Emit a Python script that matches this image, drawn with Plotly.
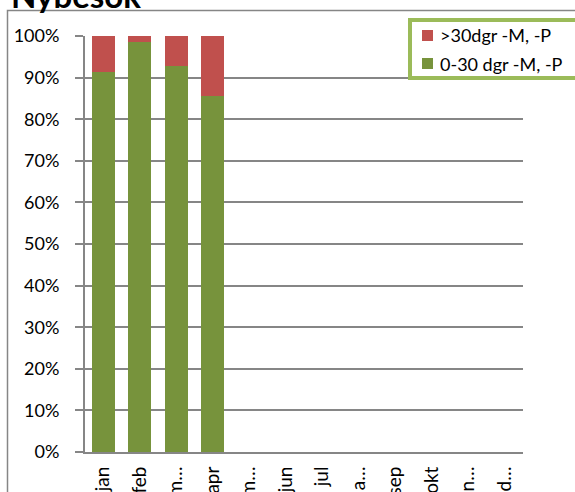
import plotly.graph_objects as go

months = ["jan", "feb", "m…", "apr", "m…", "jun", "jul", "a…", "sep", "okt", "n…", "d…"]
cat_ids = ["jan", "feb", "mar", "apr", "maj", "jun", "jul", "aug", "sep", "okt", "nov", "dec"]
ok_share = [0.913, 0.986, 0.929, 0.855, None, None, None, None, None, None, None, None]
late_share = [0.087, 0.014, 0.071, 0.145, None, None, None, None, None, None, None, None]
series_names = [">30dgr -M, -P", "0-30 dgr -M, -P"]
series_colors = ["#C0504D", "#77933C"]

W, H = 575, 492
ML, MR, MT, MB = 85, 52, 36, 40
PW, PH = W - ML - MR, H - MT - MB

def px_x(p):
    return (p - ML) / PW

def px_y(p):
    return (H - MB - p) / PH

FONT = "Lato, 'Liberation Sans', Arial, sans-serif"
GRID = "#868686"

fig = go.Figure()
fig.add_trace(go.Bar(x=cat_ids, y=ok_share, name=series_names[1],
                     marker=dict(color=series_colors[1], line=dict(width=0))))
fig.add_trace(go.Bar(x=cat_ids, y=late_share, name=series_names[0],
                     marker=dict(color=series_colors[0], line=dict(width=0))))

shapes = [
    dict(type="rect", xref="paper", yref="paper",
         x0=px_x(7.5), x1=px_x(W + 20), y0=px_y(H + 20), y1=px_y(10.5),
         line=dict(color=GRID, width=1.5), layer="below"),
    dict(type="rect", xref="paper", yref="paper",
         x0=px_x(410), x1=px_x(W + 20), y0=px_y(78), y1=px_y(20),
         line=dict(color="#9BBB59", width=4), fillcolor="white", layer="above"),
]
annotations = [
    dict(text="<b>Nybesök</b>", xref="paper", yref="paper",
         x=px_x(9), y=px_y(17), xanchor="left", yanchor="bottom",
         showarrow=False, font=dict(family=FONT, size=33)),
]
row_centers = [35.5, 63.5]
for name, color, cy in zip(series_names, series_colors, row_centers):
    shapes.append(dict(type="rect", xref="paper", yref="paper",
                       x0=px_x(422), x1=px_x(433), y0=px_y(cy + 5.5), y1=px_y(cy - 5.5),
                       line=dict(width=0), fillcolor=color, layer="above"))
    annotations.append(dict(text=name, xref="paper", yref="paper",
                            x=px_x(438), y=px_y(cy), xanchor="left", yanchor="middle",
                            showarrow=False, font=dict(family=FONT, size=18)))

fig.update_layout(
    width=W, height=H,
    margin=dict(l=ML, r=MR, t=MT, b=MB, autoexpand=False),
    barmode="stack", bargap=0.37,
    plot_bgcolor="white", paper_bgcolor="white",
    font=dict(family=FONT, size=18, color="#000000"),
    showlegend=False,
    xaxis=dict(type="category", categoryorder="array", categoryarray=cat_ids,
               tickmode="array", tickvals=cat_ids, ticktext=months,
               tickangle=-90, showgrid=False, showline=True, linecolor=GRID,
               linewidth=2, ticks="", ticklabelstandoff=5, tickfont=dict(size=19)),
    yaxis=dict(range=[0, 1], dtick=0.1, tickformat=".0%", showgrid=True,
               gridcolor=GRID, gridwidth=2, showline=True, linecolor=GRID,
               linewidth=2, ticks="outside", ticklen=8, tickcolor=GRID,
               tickwidth=2, ticklabelstandoff=12, zeroline=False,
               tickfont=dict(size=18)),
    shapes=shapes,
    annotations=annotations,
)

fig.write_html("out.html", config={"displayModeBar": False},
               post_script="document.body.style.margin='0';document.body.style.overflow='hidden';")
